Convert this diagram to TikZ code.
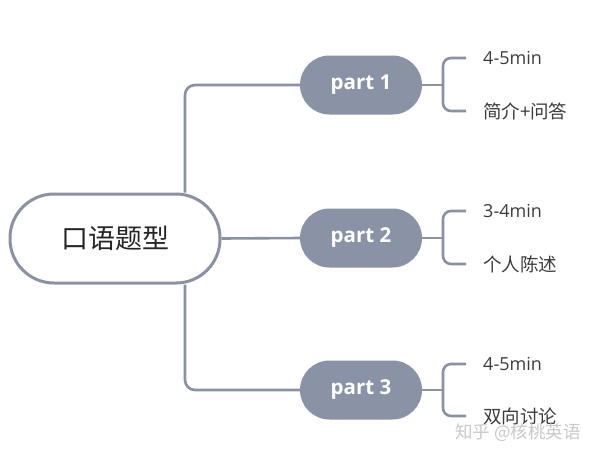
\documentclass[tikz,border=0pt]{standalone}
\usepackage{fontspec}
\setmainfont{Open Sans}
\newfontfamily\cjk{Noto Sans CJK SC}
\definecolor{linec}{HTML}{8A91A2}
\definecolor{partc}{HTML}{8A93A5}
\definecolor{leafc}{HTML}{3C3C3C}
\definecolor{wmc}{HTML}{C8C8C8}
\pgfdeclarelayer{paper}
\pgfdeclarelayer{bg}
\pgfsetlayers{paper,bg,main}
\tikzset{
  conn/.style={draw=linec, line width=2.6pt, rounded corners=10pt},
  rootbox/.style={draw=linec, line width=3pt, fill=white, rounded corners=44pt, minimum width=210pt, minimum height=89pt, inner sep=0pt, font=\cjk\fontsize{27}{30}\selectfont, text=black!85},
  partbox/.style={fill=partc, rounded corners=29.5pt, minimum width=122pt, minimum height=59pt, inner sep=0pt, text=white, font=\bfseries\fontsize{20.5}{24}\selectfont},
  leaf/.style={anchor=west, inner sep=0pt, text=leafc, font=\fontsize{18}{22}\selectfont},
  leafcn/.style={anchor=west, inner sep=0pt, text=leafc, font=\cjk\fontsize{18.5}{22}\selectfont},
}
\begin{document}
\begin{tikzpicture}[x=1pt,y=-1pt]
\useasboundingbox (0,0) rectangle (600,459);
\begin{pgfonlayer}{paper}
\fill[white] (0,0) rectangle (600,459);
\end{pgfonlayer}
% nodes
\node[rootbox] (root) at (115,238.5) {口语题型};
\node[partbox] (p1) at (361,85) {part 1};
\node[partbox] (p2) at (361,238) {part 2};
\node[partbox] (p3) at (361,390) {part 3};
\node[leaf] (l1a) at (483,58) {4-5min};
\node[leafcn] (l1b) at (483,111) {简介+问答};
\node[leaf] (l2a) at (483,211) {3-4min};
\node[leafcn] (l2b) at (483,264) {个人陈述};
\node[leaf] (l3a) at (483,364) {4-5min};
\node[leafcn] (l3b) at (483,416) {双向讨论};
\node[anchor=west, inner sep=0pt, text=wmc, font=\cjk\fontsize{17.5}{20}\selectfont] (wm) at (455,433) {知乎 @核桃英语};
% junction coordinates
\coordinate (j) at (185,238);
\coordinate (b1) at (443,85);
\coordinate (b2) at (443,238);
\coordinate (b3) at (443,390);
\coordinate (e1) at (466,85);
\coordinate (e2) at (466,238);
\coordinate (e3) at (466,390);
\begin{pgfonlayer}{bg}
% connectors root -> parts
\draw[conn] (root.north -| j) |- (p1.west);
\draw[conn] (root.east) -- (p2.west);
\draw[conn] (root.south -| j) |- (p3.west);
% brackets
\draw[conn] (p1.east) -- (b1);
\draw[conn, rounded corners=8pt] (l1a.west -| e1) -| (b1) |- (l1b.west -| e1);
\draw[conn] (p2.east) -- (b2);
\draw[conn, rounded corners=8pt] (l2a.west -| e2) -| (b2) |- (l2b.west -| e2);
\draw[conn] (p3.east) -- (b3);
\draw[conn, rounded corners=8pt] (l3a.west -| e3) -| (b3) |- (l3b.west -| e3);
\end{pgfonlayer}
\end{tikzpicture}
\end{document}
